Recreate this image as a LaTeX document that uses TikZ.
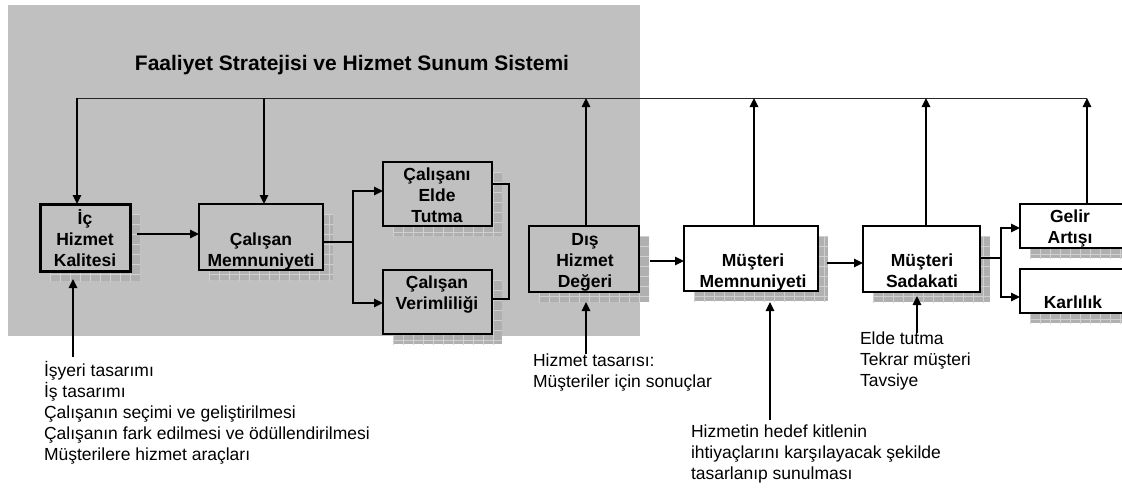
\documentclass[tikz,border=0pt]{standalone}
\usepackage{fontspec}
\setmainfont{Liberation Sans}
\usetikzlibrary{arrows.meta,calc}

\definecolor{panelgray}{HTML}{C0C0C0}
\definecolor{shadowfill}{HTML}{B0B0B0}
\definecolor{shadowgrid}{HTML}{D0D0D0}

% hatched drop shadow, offset 10 right and 10 down from the box (l,t,r,b)
\newcommand{\boxshadow}[4]{%
  \fill[shadowfill] (#1+10,#2+10) rectangle (#3+10,#4+10);
  \begin{scope}
    \clip (#1+10,#2+10) rectangle (#3+10,#4+10);
    \foreach \gx in {0,10,...,200}
      \draw[shadowgrid,line width=0.8pt] (#1+10+\gx,#2) -- (#1+10+\gx,#4+20);
    \foreach \gy in {0,10,...,100}
      \draw[shadowgrid,line width=0.8pt] (#1,#2+10+\gy) -- (#3+20,#2+10+\gy);
  \end{scope}}

% stage box: name, left, top, right, bottom, fill, extra options
\newcommand{\flowbox}[7]{%
  \boxshadow{#2}{#3}{#4}{#5}
  \node[stagebox,fill=#6,minimum width={#4-#2},minimum height={#5-#3},#7]
    (#1) at ({(#2+#4)/2},{(#3+#5)/2}) {};}

\begin{document}
\begin{tikzpicture}[x=1pt,y=-1pt,
  every node/.style={inner sep=0pt,outer sep=0pt},
  stagebox/.style={draw=black,line width=1.3pt,rectangle},
  % multi-line labels are placed by the baseline of their last line
  stagetext/.style={font=\fontsize{17.5}{21}\selectfont\bfseries,align=center,anchor=base},
  notetext/.style={font=\fontsize{17.5}{20.8}\selectfont,align=left,anchor=base west},
  flow/.style={line width=1.4pt,-{Triangle[length=9pt,width=8.5pt]}},
  link/.style={line width=1.4pt},
  fbline/.style={line width=1pt,draw=black!85}]

\useasboundingbox (0,0) rectangle (1122,491);
\clip (0,0) rectangle (1122,491);

% operating strategy panel
\fill[panelgray] (8,5) rectangle (640,336);
\node[font=\fontsize{21}{25}\selectfont\bfseries,anchor=base] (title) at (352,70)
  {Faaliyet Stratejisi ve Hizmet Sunum Sistemi};

% stages
\flowbox{ic}{40}{204}{130}{271}{panelgray}{line width=3pt}
\flowbox{cm}{199}{204}{323}{270}{panelgray}{}
\flowbox{elde}{383}{162}{492}{226}{panelgray}{}
\flowbox{verim}{383}{270}{492}{334}{panelgray}{}
\flowbox{dis}{529}{226}{639}{292}{panelgray}{}
\flowbox{mm}{684}{226}{818}{291}{white}{}
\flowbox{sad}{863}{226}{980}{292}{white}{}
\flowbox{gelir}{1020}{204}{1124}{248}{white}{}
\flowbox{karl}{1020}{269}{1124}{313}{white}{}

% stage labels
\node[stagetext] (ic-t) at (85,266) {İç\\Hizmet\\Kalitesi};
\node[stagetext] (cm-t) at (261,266) {Çalışan\\Memnuniyeti};
\node[stagetext] (elde-t) at (437,222) {Çalışanı\\Elde\\Tutma};
\node[stagetext] (verim-t) at (437,309) {Çalışan\\Verimliliği};
\node[stagetext] (dis-t) at (585,287) {Dış\\Hizmet\\Değeri};
\node[stagetext] (mm-t) at (753,287) {Müşteri\\Memnuniyeti};
\node[stagetext] (sad-t) at (922,287) {Müşteri\\Sadakati};
\node[stagetext] (gelir-t) at (1070,243) {Gelir\\Artışı};
\node[stagetext] (karl-t) at (1073,308) {Karlılık};

% feedback loop along the top
\coordinate (fbL) at (77,98);
\coordinate (fbR) at (1087,98);
\draw[fbline] (fbL) -- (fbR);
\draw[flow] (fbL) -- (fbL |- ic.north);
\draw[flow] ([xshift=3pt]cm.north |- fbL) -- ([xshift=3pt]cm.north);
\draw[flow] ([xshift=2pt]dis.north) -- ([xshift=2pt]dis.north |- fbL);
\draw[flow] ([xshift=3pt]mm.north) -- ([xshift=3pt]mm.north |- fbL);
\draw[flow] ([xshift=4.5pt]sad.north) -- ([xshift=4.5pt]sad.north |- fbL);
\draw[flow] (fbR |- gelir.north) -- (fbR);

% main chain
\coordinate (icOut) at ([xshift=7pt,yshift=3.5pt]ic.east);
\draw[flow] (icOut) -- (icOut -| cm.west);

\coordinate (cmOut) at ([yshift=-5pt]cm.east);
\coordinate (cmJ) at (353,242);
\draw[link] (cmOut) -- (cmJ);
\draw[flow] (cmJ) |- ([yshift=3pt]elde.west);
\draw[flow] (cmJ) |- ([yshift=-1pt]verim.west);
\draw[link] ([yshift=10pt]elde.east) -- ++(17,0) |- ([yshift=3pt]verim.east);

\coordinate (disOut) at ([xshift=11pt,yshift=-2pt]dis.east);
\draw[flow] (disOut) -- (disOut -| mm.west);
\coordinate (mmOut) at ([xshift=9pt,yshift=-4.5pt]mm.east);
\draw[flow] (mmOut) -- (mmOut -| sad.west);

\coordinate (sadJ) at (1001,258);
\draw[link] ([yshift=1pt]sad.east) -- (sadJ);
\draw[flow] (sadJ) |- ([yshift=-2pt]gelir.west);
\draw[flow] (sadJ) |- ([yshift=-6pt]karl.west);

% driver notes below the stages
\node[notetext] (note-ic) at (44,460)
  {İşyeri tasarımı\\İş tasarımı\\Çalışanın seçimi ve geliştirilmesi\\Çalışanın fark edilmesi ve ödüllendirilmesi\\Müşterilere hizmet araçları};
\node[notetext] (note-dis) at (533,387) {Hizmet tasarısı:\\Müşteriler için sonuçlar};
\node[notetext] (note-mm) at (691,479)
  {Hizmetin hedef kitlenin\\ihtiyaçlarını karşılayacak şekilde\\tasarlanıp sunulması};
\node[notetext] (note-sad) at (860,386) {Elde tutma\\Tekrar müşteri\\Tavsiye};

\coordinate (icIn) at (73,357);
\draw[flow] (icIn) -- ($(icIn |- ic.south)+(0,8)$);
\coordinate (disIn) at (586,354);
\draw[flow] (disIn) -- ($(disIn |- dis.south)+(0,10)$);
\coordinate (mmIn) at (770,420);
\draw[flow] (mmIn) -- ($(mmIn |- mm.south)+(0,11)$);
\coordinate (sadIn) at (917,333);
\draw[flow] (sadIn) -- ($(sadIn |- sad.south)+(0,4)$);

\end{tikzpicture}
\end{document}
